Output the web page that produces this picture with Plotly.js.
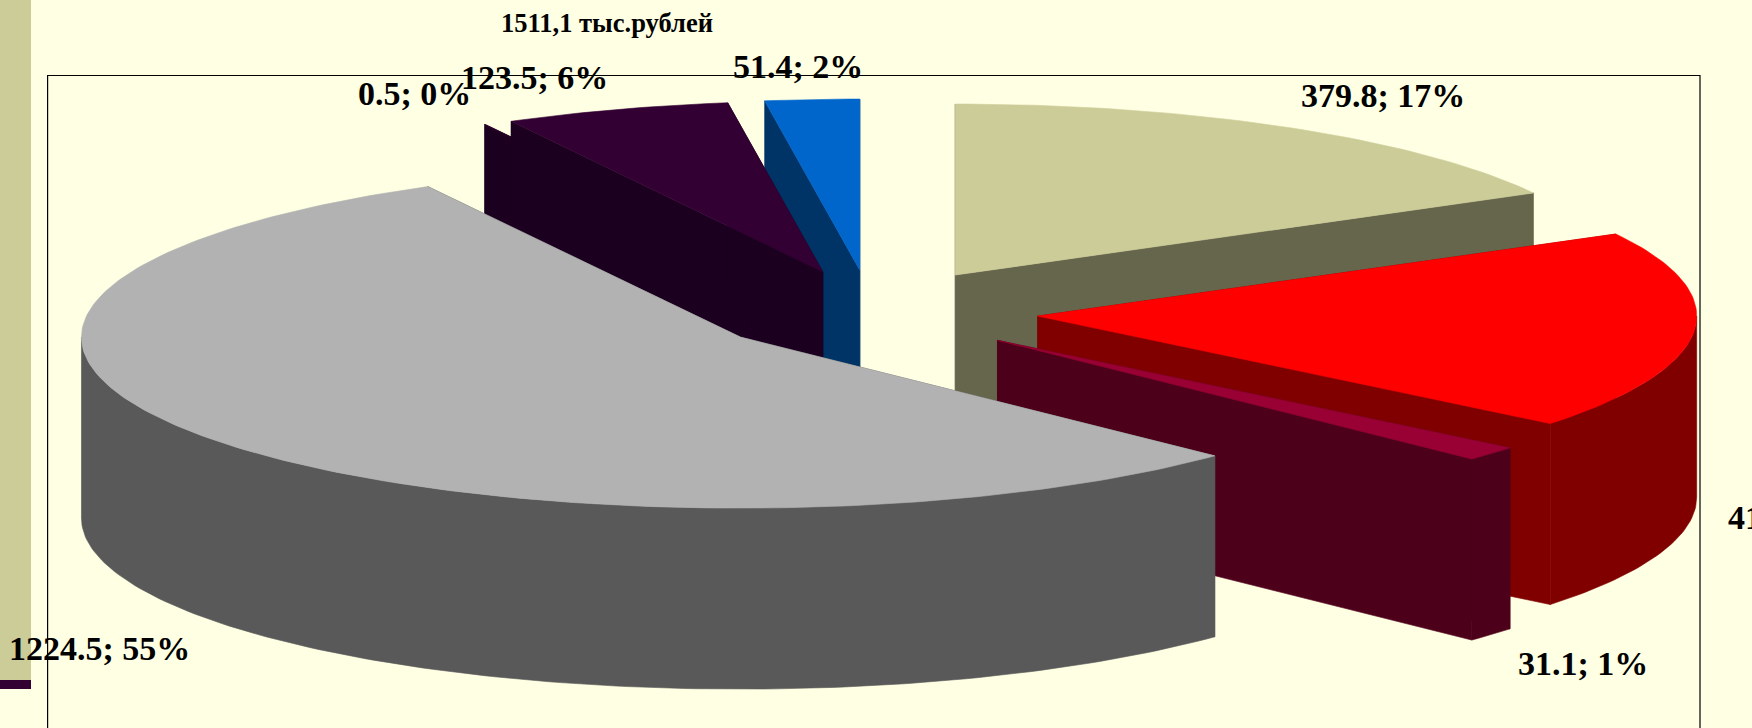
<!DOCTYPE html>
<html>
<head>
<meta charset="utf-8">
<script src="https://cdn.plot.ly/plotly-3.0.1.min.js"></script>
<style>html,body{margin:0;padding:0;background:#FFFFE3;overflow:hidden}#c{width:1752px;height:728px}</style>
</head>
<body>
<div id="c"></div>
<script>
// ---- data ----
const values = [379.8, 418.8, 31.1, 1224.5, 0.5, 123.5, 51.4];
const chartTitle = '1511,1 тыс.рублей';

// ---- styles ----
const topColors  = ['#CCCC99', '#FF0000', '#990033', '#B2B2B2', '#330033', '#330033', '#0066CC'];
const wallColors = ['#66664D', '#800000', '#4D001A', '#595959', '#1C001F', '#1C001F', '#003366'];
const drawOrder  = [0, 6, 4, 5, 1, 2, 3];
const pullX = [0.134, 0.259, 0.198, -0.192, -0.106, -0.067, -0.011];
const pullY = [-0.222, 0.018, 0.160, 0.141, -0.222, -0.240, -0.251];
const labelX = [1383, 1726, 1583, 99, 414, 534, 798];
const labelY = [95, 517, 663, 648, 93, 77, 66];
const labelAnchor = ['center', 'left', 'center', 'center', 'center', 'center', 'center'];

// ---- projection of the tilted pie ----
const cx = 867, cy = 313, rx = 659, ry = 171, depth = 181, startDeg = 270;
const bg = '#FFFFE3';

const total = values.reduce((s, v) => s + v, 0);
const rad = d => d * Math.PI / 180;

function polygon(pts, color) {
  const xs = pts.map(p => p[0]), ys = pts.map(p => p[1]);
  xs.push(xs[0]); ys.push(ys[0]);
  return {
    type: 'scatter', mode: 'lines', x: xs, y: ys, fill: 'toself', fillcolor: color,
    line: {color: color, width: 0.6}, hoverinfo: 'skip', showlegend: false
  };
}

// sweep angles from the values
let running = startDeg;
const sweeps = values.map(v => {
  const from = running, to = running + v / total * 360;
  running = to;
  return [from, to];
});

const traces = [];
drawOrder.forEach(i => {
  const [from, to] = sweeps[i];
  const ox = cx + pullX[i] * rx, oy = cy + pullY[i] * ry;
  const pt = d => [ox + rx * Math.cos(rad(d)), oy + ry * Math.sin(rad(d))];
  const steps = Math.max(1, Math.ceil(to - from));
  const arc = [];
  for (let k = 0; k <= steps; k++) arc.push(from + (to - from) * k / steps);
  const down = p => [p[0], p[1] + depth];

  // radial side faces
  [from, to].forEach(d => {
    const p = pt(d);
    traces.push(polygon([[ox, oy], p, down(p), [ox, oy + depth]], wallColors[i]));
  });
  // outer rim, only the part that faces the viewer
  const front = arc.filter(d => Math.sin(rad(d)) >= 0);
  const extra = [];
  [360, 720, 180, 540].forEach(d => { if (d > from && d < to) extra.push(d); });
  const rim = front.concat(extra).sort((a, b) => a - b);
  if (rim.length > 1) {
    const upper = rim.map(pt);
    const lower = upper.map(down).reverse();
    traces.push(polygon(upper.concat(lower), wallColors[i]));
  }
  // top face
  traces.push(polygon([[ox, oy]].concat(arc.map(pt)), topColors[i]));
});

const labels = values.map((v, i) => ({
  text: '<b>' + v + '; ' + Math.round(v / total * 100) + '%</b>',
  x: labelX[i], y: labelY[i], xref: 'x', yref: 'y',
  xanchor: labelAnchor[i], yanchor: 'middle', showarrow: false,
  font: {family: '"Liberation Serif", serif', size: 34, color: '#000'}
}));
labels.push({
  text: '<b>' + chartTitle + '</b>', x: 607, y: 23, xref: 'x', yref: 'y',
  xanchor: 'center', yanchor: 'middle', showarrow: false,
  font: {family: '"Liberation Serif", serif', size: 26.5, color: '#000'}
});

const hidden = {visible: false, fixedrange: true};
Plotly.newPlot('c', traces, {
  width: 1752, height: 728,
  margin: {l: 0, r: 0, t: 0, b: 0, pad: 0},
  paper_bgcolor: bg, plot_bgcolor: bg, showlegend: false,
  xaxis: Object.assign({range: [0, 1752]}, hidden),
  yaxis: Object.assign({range: [728, 0]}, hidden),
  annotations: labels,
  shapes: [
    {type: 'rect', xref: 'x', yref: 'y', x0: 47.6, x1: 1700, y0: 75.5, y1: 900, layer: 'below',
     line: {color: '#000', width: 1.2}},
    {type: 'rect', xref: 'x', yref: 'y', x0: 0, x1: 31, y0: 0, y1: 680, layer: 'below',
     fillcolor: '#CCCC99', line: {width: 0}},
    {type: 'rect', xref: 'x', yref: 'y', x0: 0, x1: 31, y0: 680, y1: 689, layer: 'below',
     fillcolor: '#330033', line: {width: 0}}
  ]
}, {displayModeBar: false, staticPlot: true});
</script>
</body>
</html>
